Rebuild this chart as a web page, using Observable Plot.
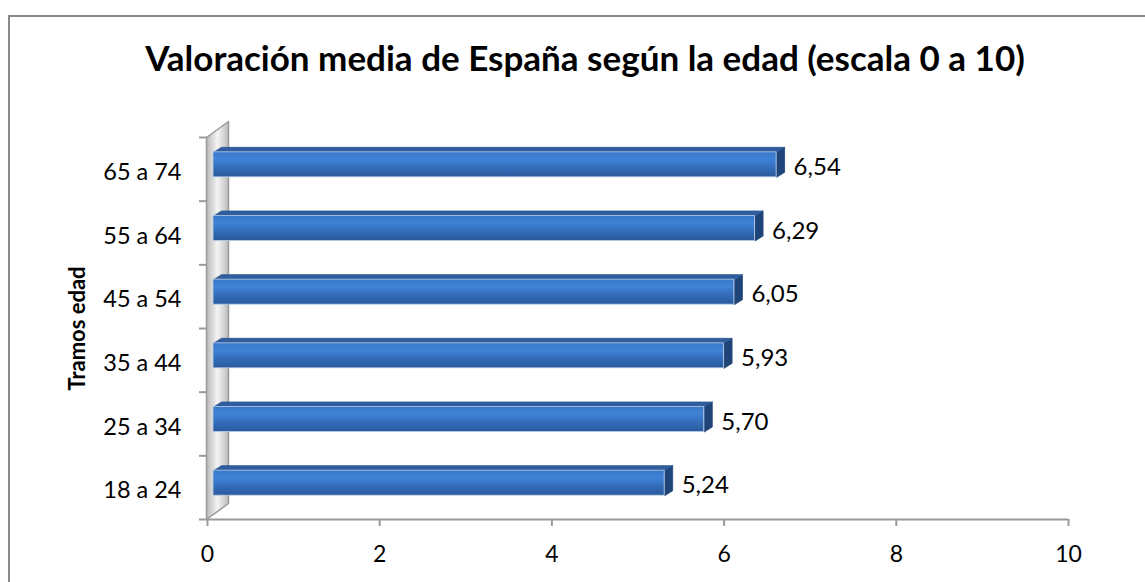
<!DOCTYPE html>
<html>
<head>
<meta charset="utf-8">
<script src="https://cdn.jsdelivr.net/npm/d3@7"></script>
<script src="https://cdn.jsdelivr.net/npm/@observablehq/plot@0.6"></script>
<style>
  html, body { margin: 0; padding: 0; background: #fff; }
  #wrap { position: relative; width: 1145px; height: 582px; overflow: hidden; font-family: Lato, "Open Sans", sans-serif; }
  #frame { position: absolute; left: 8px; top: 15px; width: 1200px; height: 700px; border: 2px solid #8a8a8a; box-sizing: border-box; }
  #title { position: absolute; left: 25px; width: 1120px; top: 35px; text-align: center; font-weight: 700; font-size: 35px; line-height: 44px; color: #000; white-space: nowrap; }
  #chart { position: absolute; left: 0; top: 0; }
</style>
</head>
<body>
<div id="wrap">
  <div id="frame"></div>
  <div id="chart"></div>
  <div id="title">Valoración media de España según la edad (escala 0 a 10)</div>
</div>
<script>
// ---- data ----
const categories = ["18 a 24", "25 a 34", "35 a 44", "45 a 54", "55 a 64", "65 a 74"];
const values = [5.24, 5.70, 5.93, 6.05, 6.29, 6.54];
const valueLabels = ["5,24", "5,70", "5,93", "6,05", "6,29", "6,54"];
const xTicks = [0, 2, 4, 6, 8, 10];
const yTitle = "Tramos edad";

// ---- layout ----
const W = 1145, H = 582;
const mL = 207, mR = 77, mT = 137, mB = 63;
const xDom = [0, 10], yDom = [-0.5, categories.length - 0.5];
const kx = (xDom[1] - xDom[0]) / (W - mL - mR); // data units per px
const ky = (yDom[1] - yDom[0]) / (H - mT - mB);

const rows = categories.map((c, i) => ({i, c, v: values[i], label: valueLabels[i]}));

// 3D faces built in data space from pixel offsets
function pt(x, y, px, py) { return {x: x + px * kx, y: y - py * ky}; }
const fronts = [], tops = [], sides = [];
rows.forEach(r => {
  const top = -17, bot = 8, sx = 6, dX = 8, dY = -5;
  fronts.push({i: r.i, x1: sx * kx, x2: r.v + sx * kx, y1: r.i - bot * ky, y2: r.i - top * ky});
  const a = pt(0, r.i, sx, top), b = pt(r.v, r.i, sx, top),
        c = pt(r.v, r.i, sx + dX, top + dY), d = pt(0, r.i, sx + dX, top + dY);
  [a, b, c, d, a].forEach(p => tops.push({...p, z: r.i}));
  const e = pt(r.v, r.i, sx, top), f = pt(r.v, r.i, sx + dX, top + dY),
        g = pt(r.v, r.i, sx + dX, bot + dY), h = pt(r.v, r.i, sx, bot);
  [e, f, g, h, e].forEach(p => sides.push({...p, z: r.i}));
});
// wall (back plane of the category axis)
const wall = [pt(0, yDom[1], -1, 0), pt(0, yDom[0], -1, 0), pt(0, yDom[0], 21, -16), pt(0, yDom[1], 21, -16), pt(0, yDom[1], -1, 0)];

const chart = Plot.plot({
  width: W, height: H,
  marginLeft: mL, marginRight: mR, marginTop: mT, marginBottom: mB,
  style: {fontFamily: "Lato, 'Open Sans', sans-serif", color: "#000", background: "transparent", overflow: "visible"},
  x: {domain: xDom, ticks: xTicks},
  y: {domain: yDom},
  marks: [
    Plot.line(wall, {x: "x", y: "y", fill: "url(#wallGrad)", stroke: "#9a9a9a", strokeWidth: 1.5, curve: "linear"}),
    Plot.ruleY([yDom[0]], {x1: xDom[0], x2: xDom[1], stroke: "#9a9a9a", strokeWidth: 2}),
    Plot.axisX({ticks: xTicks, tickSize: 7, tickPadding: 19, stroke: "#9a9a9a", strokeWidth: 2, fontSize: 23, label: null, tickFormat: d => String(d)}),
    Plot.axisY({ticks: d3.range(yDom[0], yDom[1] + 0.01, 1), tickSize: 8, tickFormat: () => "", stroke: "#9a9a9a", strokeWidth: 2, label: null}),
    Plot.axisY({ticks: d3.range(0, categories.length), tickSize: 0, tickPadding: 26, tickFormat: i => categories[i], fontSize: 23.5, dy: 3, label: null}),
    Plot.text([yTitle], {frameAnchor: "left", textAnchor: "middle", dx: -130, rotate: -90, fontSize: 22, fontWeight: "bold", text: d => d}),
    Plot.line(sides, {x: "x", y: "y", z: "z", fill: "#1f4478", stroke: "#1f4478", strokeWidth: 0.8, curve: "linear"}),
    Plot.line(tops, {x: "x", y: "y", z: "z", fill: "#2f5d9e", stroke: "#2a5592", strokeWidth: 0.8, curve: "linear"}),
    Plot.rect(fronts, {x1: "x1", x2: "x2", y1: "y1", y2: "y2", fill: "url(#barGrad)", stroke: "#b9cde8", strokeWidth: 0.8}),
    Plot.text(rows, {x: "v", y: "i", text: "label", textAnchor: "start", dx: 23, dy: -2, fontSize: 24})
  ]
});

// gradients
const ns = "http://www.w3.org/2000/svg";
const defs = document.createElementNS(ns, "defs");
defs.innerHTML = `
  <linearGradient id="barGrad" x1="0" y1="0" x2="0" y2="1">
    <stop offset="0" stop-color="#3a78c8"/>
    <stop offset="0.3" stop-color="#3f82d6"/>
    <stop offset="0.7" stop-color="#3168b4"/>
    <stop offset="1" stop-color="#2a5a9c"/>
  </linearGradient>
  <linearGradient id="wallGrad" x1="0" y1="0" x2="1" y2="0">
    <stop offset="0" stop-color="#b8b8b8"/>
    <stop offset="0.5" stop-color="#f4f4f4"/>
    <stop offset="1" stop-color="#bdbdbd"/>
  </linearGradient>`;
chart.insertBefore(defs, chart.firstChild);
document.getElementById("chart").appendChild(chart);
</script>
</body>
</html>
